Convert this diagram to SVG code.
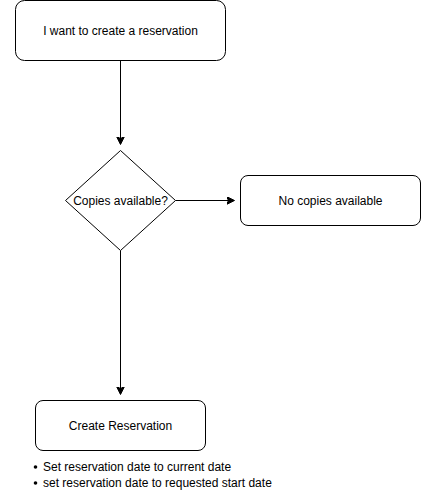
<svg xmlns="http://www.w3.org/2000/svg" width="421" height="503" viewBox="0 0 421 503">
<style>
.n{fill:#fff;stroke:#000;stroke-width:1}
.t{font-family:"Liberation Sans",Arial,sans-serif;font-size:12px;fill:#000}
.c{stroke:#000;stroke-width:1;fill:none}
</style>
<defs>
<marker id="ah" markerWidth="10" markerHeight="10" refX="7" refY="4" orient="auto" markerUnits="userSpaceOnUse">
<path d="M0,0 L8,4 L0,8 L2,4 Z" fill="#000" stroke="#000" stroke-width="1"/>
</marker>
</defs>
<g id="connectors">
<path class="c" d="M120.5,60.5 L120.5,143.5" marker-end="url(#ah)"/>
<path class="c" d="M175.5,200.5 L233.5,200.5" marker-end="url(#ah)"/>
<path class="c" d="M120.5,250.5 L120.5,393.5" marker-end="url(#ah)"/>
</g>
<g id="start">
<rect class="n" x="15.5" y="0.5" width="210" height="60" rx="9" ry="9"/>
<text class="t" x="120.5" y="34.5" text-anchor="middle">I want to create a reservation</text>
</g>
<g id="decision">
<path class="n" d="M120.5,150.5 L175.5,200.5 L120.5,250.5 L65.5,200.5 Z"/>
<text class="t" x="120.5" y="204.5" text-anchor="middle">Copies available?</text>
</g>
<g id="nocopies">
<rect class="n" x="240.5" y="175.5" width="180" height="50" rx="7.5" ry="7.5"/>
<text class="t" x="330.5" y="204.5" text-anchor="middle">No copies available</text>
</g>
<g id="create">
<rect class="n" x="35.5" y="400.5" width="170" height="50" rx="7.5" ry="7.5"/>
<text class="t" x="120.5" y="429.5" text-anchor="middle">Create Reservation</text>
<circle cx="35.5" cy="467" r="1.8" fill="#000"/>
<text class="t" x="43" y="471">Set reservation date to current date</text>
<circle cx="35.5" cy="483" r="1.8" fill="#000"/>
<text class="t" x="43" y="487">set reservation date to requested start date</text>
</g>
</svg>
